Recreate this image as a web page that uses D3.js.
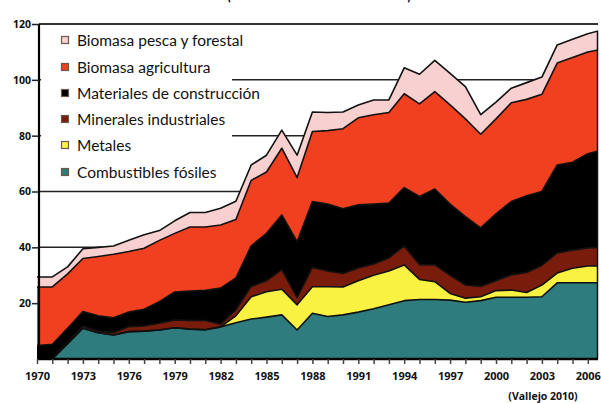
<!DOCTYPE html>
<html><head><meta charset="utf-8">
<script src="https://cdn.jsdelivr.net/npm/d3@7"></script>
<style>
html,body{margin:0;padding:0;background:#fff;}
svg{display:block;}
</style></head>
<body>
<svg id="chart" width="601" height="403"></svg>
<script>
const years = [1970,1971,1972,1973,1974,1975,1976,1977,1978,1979,1980,1981,1982,1983,1984,1985,1986,1987,1988,1989,1990,1991,1992,1993,1994,1995,1996,1997,1998,1999,2000,2001,2002,2003,2004,2005,2006,2007];
const combustibles = [0,0,5.5,11,9.4,8.6,9.8,10,10.4,11.2,10.7,10.5,11.5,13,14.3,15,15.8,10.4,16.4,15.2,15.8,16.8,18,19.4,20.9,21.3,21.3,21.1,20.3,20.9,22.1,22.1,22.1,22.3,27.3,27.3,27.3,27.3];
const metales = [0,0,0,0,0,0,0,0,0,0,0,0,0,2.5,8,9.1,9.2,9,9.5,10.7,10,11.2,12,12.1,12.8,7.2,6.4,2.4,1.5,1.4,2.4,2.6,1.7,4.2,3.5,5.2,6,6.1];
const minerales = [0,0,0.3,0.7,0.6,0.8,1.8,1.8,2.4,2.8,3.1,3.3,1.0,2.1,3.7,3.9,7,2.6,6.9,5.6,4.8,4.6,4,4.7,6.8,5.3,6,6.5,4.7,3.7,3.5,5.4,7.2,7,7.2,6.5,6.5,6.6];
const construccion = [4.8,5.3,5.2,5.3,5.5,5.4,5.2,6,7.7,10,10.5,10.8,12.9,11.4,14.5,17,19.6,20,23.6,24,23.2,22.6,21.5,19.7,20.9,24.4,27.2,25.5,24.5,21,24,26.3,27.5,26.5,31.5,31.5,33.7,35];
const agricultura = [21,20.5,19.5,19,21.2,22.7,21.7,21.9,22,21,23,22.7,22.6,21,23.5,22,23.9,23,25.1,26.3,28.7,31.2,32,32.4,33.6,33.2,34.9,35.5,35,33.5,34,35.4,34.5,34.8,36.5,37.5,36.5,36];
const pesca = [3.6,3.6,2.5,3.5,3.3,3,4,4.8,3.5,4.5,5.2,5.2,6,6.5,5.5,6,6.5,8,7,6.5,6,4.6,5.3,4.5,9.3,10.6,11.2,11.3,11.6,7,6,5.2,6,6.2,6.5,6.5,6.5,7];

const seriesKeys = ["combustibles","metales","minerales","construccion","agricultura","pesca"];
const seriesNames = ["Combustibles fósiles","Metales","Minerales industriales","Materiales de construcción","Biomasa agricultura","Biomasa pesca y forestal"];
const seriesColors = ["#2e7c7d","#faf243","#7a1c0c","#000000","#f04020","#f8d0cf"];
const yTicks = [20,40,60,80,100,120];
const xLabelYears = [1970,1973,1976,1979,1982,1985,1988,1991,1994,1997,2000,2003,2006];
const tickYears = years.filter(d => d <= 2006);

const table = years.map((yr,i) => ({
  year: yr, combustibles: combustibles[i], metales: metales[i], minerales: minerales[i],
  construccion: construccion[i], agricultura: agricultura[i], pesca: pesca[i]
}));

const svg = d3.select("#chart");
const x = d3.scaleLinear().domain([1970, 2007]).range([37, 603.1]);
const y = d3.scaleLinear().domain([0, 120]).range([359, 24]);
const plotRight = 598;

// gridlines
svg.append("g").selectAll("line").data([40,60,80,100]).join("line")
  .attr("x1", 39).attr("x2", plotRight).attr("y1", d => y(d)).attr("y2", d => y(d))
  .attr("stroke", "#222").attr("stroke-width", 1.5);
svg.append("line").attr("x1", 39).attr("x2", plotRight).attr("y1", y(120)).attr("y2", y(120))
  .attr("stroke", "#333").attr("stroke-width", 2.2);

// legend background
svg.append("rect").attr("x", 41).attr("y", 27).attr("width", 191).attr("height", 158).attr("fill", "#fff");

// title (cut off at top, as in the reference)
svg.append("text").attr("x", 319).attr("y", 0).attr("text-anchor", "middle")
  .attr("font-family", "Lato, 'Open Sans', sans-serif").attr("font-weight", "bold").attr("font-size", 17)
  .attr("textLength", 184).attr("lengthAdjust", "spacingAndGlyphs").attr("fill", "#111")
  .text("(miles de millones de toneladas)");

// stacked areas
const stack = d3.stack().keys(seriesKeys);
const layers = stack(table);
svg.append("defs").append("clipPath").attr("id", "clip")
  .append("rect").attr("x", 0).attr("y", 0).attr("width", plotRight).attr("height", 403);

const area = d3.area().x(d => x(d.data.year)).y0(d => y(d[0])).y1(d => y(d[1])).curve(d3.curveLinear);
const line = d3.line().x(d => x(d.data.year)).y(d => y(d[1])).curve(d3.curveLinear);
const g = svg.append("g").attr("clip-path", "url(#clip)");
g.selectAll("path.area").data(layers).join("path").attr("class", "area")
  .attr("d", area).attr("fill", (d,i) => seriesColors[i]);
g.selectAll("path.edge").data(layers).join("path").attr("class", "edge")
  .attr("d", line).attr("fill", "none").attr("stroke", "#111").attr("stroke-width", 1.6)
  .attr("stroke-linejoin", "round");

// right edge outline
const tRight = x.invert(plotRight);
const i0 = years.indexOf(2006);
const frac = tRight - 2006;
const topRight = layers[layers.length-1][i0][1] + frac * (layers[layers.length-1][i0+1][1] - layers[layers.length-1][i0][1]);
svg.append("line").attr("x1", plotRight - 0.5).attr("x2", plotRight - 0.5).attr("y1", y(0)).attr("y2", y(topRight))
  .attr("stroke", "#111").attr("stroke-width", 1.5);

// axes
const xAxis = d3.axisBottom(x).tickValues(tickYears).tickSize(5).tickSizeOuter(0)
  .tickFormat(d => xLabelYears.includes(d) ? String(d) : "");
const gx = svg.append("g").attr("transform", `translate(0,${y(0)})`).call(xAxis);
gx.select(".domain").attr("d", `M37,0H${plotRight}`).attr("stroke", "#000").attr("stroke-width", 2.5);
gx.selectAll(".tick line").attr("stroke", "#444").attr("stroke-width", 1.5);
gx.selectAll(".tick text").attr("y", 13).attr("font-family", "'Open Sans', sans-serif")
  .attr("font-weight", "bold").attr("font-size", 11).attr("fill", "#111");

const yAxis = d3.axisLeft(y).tickValues(yTicks).tickSize(7).tickSizeOuter(0);
const gy = svg.append("g").attr("transform", "translate(39,0)").call(yAxis);
gy.select(".domain").attr("d", `M0,${y(120)}V${y(0)}`).attr("stroke", "#000").attr("stroke-width", 2.2);
gy.selectAll(".tick line").attr("stroke", "#222").attr("stroke-width", 1.5);
gy.selectAll(".tick text").attr("x", -8).attr("font-family", "'Open Sans', sans-serif")
  .attr("font-weight", "bold").attr("font-size", 10.5).attr("fill", "#111");

// legend (top to bottom: reverse stack order)
const legendOrder = [5,4,3,2,1,0];
const legendY = [40,67,93,119,145,172];
const lg = svg.append("g").selectAll("g").data(legendOrder).join("g")
  .attr("transform", (d,i) => `translate(0,${legendY[i]})`);
lg.append("rect").attr("x", 61.5).attr("y", -3.5).attr("width", 7).attr("height", 7)
  .attr("fill", d => seriesColors[d]).attr("stroke", "#6b5a4a").attr("stroke-width", 1.2);
lg.append("text").attr("x", 77).attr("y", 5.5)
  .attr("font-family", "Lato, 'Open Sans', sans-serif").attr("font-size", 15.5).attr("fill", "#111")
  .text(d => seriesNames[d]);

// source
svg.append("text").attr("x", 543).attr("y", 400).attr("text-anchor", "middle")
  .attr("font-family", "'Open Sans', sans-serif").attr("font-weight", "bold").attr("font-size", 10.5).attr("fill", "#111")
  .text("(Vallejo 2010)");
</script>
</body></html>
